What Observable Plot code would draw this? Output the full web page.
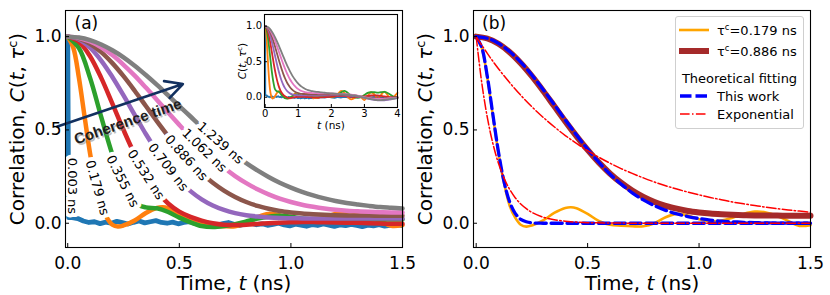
<!DOCTYPE html>
<html>
<head>
<meta charset="utf-8">
<script src="https://cdn.jsdelivr.net/npm/d3@7"></script>
<script src="https://cdn.jsdelivr.net/npm/@observablehq/plot@0.6"></script>
<style>
  html, body { margin: 0; padding: 0; background: #fff; }
  #wrap { position: relative; width: 830px; height: 295px; overflow: hidden; font-family: "DejaVu Sans", sans-serif; color: #000; }
  .panel { position: absolute; top: 0; }
  .panel svg { display: block; max-width: none !important; }
  #legend { position: absolute; left: 675px; top: 16px; width: 127px; height: 111px; border: 1px solid #cfcfcf; border-radius: 3px; background: rgba(255,255,255,0.85); font-size: 13px; }
  #legend .t { position: absolute; line-height: 1; white-space: nowrap; transform: translateY(-50%); }
  #legend .sup { font-size: 0.65em; position: relative; top: -0.55em; }
</style>
</head>
<body>
<div id="wrap">
  <div id="pa" class="panel" style="left:0;width:415px;height:295px"></div>
  <div id="inset" class="panel" style="left:226px;width:176px;height:134px"></div>
  <div id="pb" class="panel" style="left:415px;width:415px;height:295px"></div>
  <div id="legend">
    <svg width="127" height="111" style="position:absolute;left:0;top:0">
      <line x1="3" x2="33" y1="13" y2="13" stroke="#ffa500" stroke-width="2.6"/>
      <line x1="3" x2="33" y1="34" y2="34" stroke="#a52a2a" stroke-width="6"/>
      <line x1="4" x2="31" y1="79" y2="79" stroke="#0000ff" stroke-width="3.3" stroke-dasharray="11.5,4"/>
      <line x1="4" x2="31" y1="97" y2="97" stroke="#ff0000" stroke-width="1.5" stroke-dasharray="9.6,2.4,1.5,2.4"/>
    </svg>
    <div class="t" style="left:41px;top:13px">τ<span class="sup">c</span>=0.179 ns</div>
    <div class="t" style="left:41px;top:34px">τ<span class="sup">c</span>=0.886 ns</div>
    <div class="t" style="left:0;width:127px;text-align:center;top:61px">Theoretical fitting</div>
    <div class="t" style="left:41px;top:79px">This work</div>
    <div class="t" style="left:41px;top:97px">Exponential</div>
  </div>
</div>
<script>
// ---------------- DATA ----------------
const names = ["0.003 ns","0.179 ns","0.355 ns","0.532 ns","0.709 ns","0.886 ns","1.062 ns","1.239 ns"];

// common time grid (ns)
const tGrid = [0,0.05,0.1,0.15,0.2,0.25,0.3,0.35,0.4,0.45,0.5,0.55,0.6,0.65,0.7,0.75,0.8,0.85,0.9,0.95,1.0,1.05,1.1,1.15,1.2,1.25,1.3,1.35,1.4,1.45,1.5];
// finer grid for the fast (0.179 ns) curve
const tOrange = [0,0.025,0.05,0.075,0.1,0.125,0.15,0.175,0.2,0.225,0.25,0.3,0.35,0.4,0.425,0.45,0.5,0.55,0.6,0.65,0.7,0.75,0.8,0.85,0.9,0.95,1.0,1.05,1.1,1.15,1.2,1.25,1.3,1.35,1.4,1.45,1.5];
// grid for the 0.003 ns (noise) curve
const tBlue = [0,0.004,0.02,0.045,0.07,0.095,0.12,0.145,0.17,0.195,0.22,0.245,0.27,0.295,0.32,0.345,0.37,0.395,0.42,0.445,0.47,0.495,0.52,0.545,0.57,0.595,0.62,0.645,0.67,0.695,0.72,0.745,0.77,0.795,0.82,0.845,0.87,0.895,0.92,0.945,0.97,0.995,1.02,1.045,1.07,1.095,1.12,1.145,1.17,1.195,1.22,1.245,1.27,1.295,1.32,1.345,1.37,1.395,1.42,1.445,1.47,1.495];

const cBlue = [1.0,0.03,
  0.03,0.025,0.012,0.004,0.008,-0.002,0.006,0.0,0.01,0.003,
  -0.004,0.005,0.012,0.002,0.008,0.014,0.004,0.0,0.006,-0.003,
  0.004,0.009,-0.002,-0.006,0.003,-0.004,-0.01,-0.002,0.004,-0.006,
  -0.012,-0.004,0.002,-0.008,-0.003,-0.011,-0.006,0.0,-0.009,-0.014,
  -0.005,-0.01,-0.016,-0.008,-0.012,-0.004,-0.01,-0.017,-0.009,-0.013,
  -0.006,-0.012,-0.018,-0.01,-0.014,-0.008,-0.015,-0.011,-0.006,-0.012];
const cOrange = [1.0,0.94,0.78,0.576,0.375,0.216,0.095,0.03,-0.008,-0.018,-0.012,0.015,0.055,0.082,0.086,0.08,0.05,0.012,-0.008,-0.013,-0.016,-0.016,0.0,0.032,0.05,0.042,0.022,0.01,0.014,0.03,0.05,0.062,0.058,0.04,0.012,-0.014,-0.01];
const cGreen = [1.0,0.939,0.779,0.57,0.368,0.21,0.11,0.085,0.08,0.06,0.03,0.005,-0.015,-0.02,-0.015,-0.005,0.01,0.025,0.035,0.04,0.035,0.025,0.02,0.015,0.015,0.015,0.02,0.02,0.02,0.02,0.02];
const cRed = [1.0,0.973,0.895,0.779,0.641,0.5,0.369,0.258,0.17,0.106,0.062,0.034,0.014,0.0,-0.008,-0.01,-0.008,-0.004,0.0,0.003,0.005,0.006,0.006,0.005,0.004,0.003,0.002,0.0,-0.002,-0.003,-0.003];
const cPurple = [1.0,0.985,0.941,0.872,0.784,0.685,0.581,0.478,0.384,0.3,0.229,0.172,0.128,0.095,0.071,0.054,0.043,0.036,0.031,0.028,0.027,0.026,0.026,0.025,0.025,0.025,0.025,0.025,0.025,0.025,0.025];
const cBrown = [1.0,0.99,0.962,0.917,0.858,0.788,0.71,0.628,0.546,0.467,0.393,0.326,0.267,0.217,0.175,0.141,0.114,0.093,0.078,0.066,0.058,0.052,0.048,0.045,0.043,0.042,0.041,0.041,0.04,0.04,0.04];
const cPink = [1.0,0.993,0.974,0.943,0.901,0.849,0.791,0.727,0.661,0.593,0.527,0.463,0.403,0.347,0.297,0.253,0.215,0.182,0.155,0.132,0.114,0.099,0.088,0.079,0.072,0.067,0.064,0.061,0.059,0.058,0.057];
const cGray = [1.0,0.995,0.981,0.958,0.927,0.889,0.844,0.794,0.741,0.685,0.628,0.572,0.516,0.463,0.412,0.365,0.322,0.283,0.248,0.217,0.191,0.168,0.149,0.133,0.119,0.108,0.1,0.093,0.087,0.083,0.079];

// inset tails, 1.6 .. 4.0 ns
const tTail = [1.6,1.7,1.8,1.9,2.0,2.1,2.2,2.3,2.4,2.5,2.6,2.7,2.8,2.9,3.0,3.1,3.2,3.3,3.4,3.5,3.6,3.7,3.8,3.9,4.0];
const tailBlue = [-0.01,0.0,-0.006,0.004,-0.002,-0.008,0.003,-0.004,0.006,-0.002,0.004,-0.006,0.002,0.008,-0.003,0.005,-0.004,0.003,0.0,-0.005,0.004,0.0,-0.006,0.002,-0.003];
const tailOrange = [-0.01,0.01,0.03,0.02,0.0,0.01,0.05,0.09,0.06,0.0,-0.03,-0.01,0.02,0.0,-0.04,0.02,0.07,0.04,-0.02,0.03,0.08,0.03,-0.03,0.01,0.06];
const tailGreen = [0.02,0.018,0.015,0.012,0.01,0.012,0.03,0.07,0.09,0.06,0.02,0.0,-0.01,0.0,0.03,0.06,0.07,0.07,0.065,0.07,0.075,0.06,0.03,0.0,-0.01];
const tailRed = [-0.004,-0.002,0.0,0.004,0.008,0.012,0.015,0.016,0.015,0.012,0.008,0.004,0.002,0.004,0.01,0.018,0.024,0.026,0.024,0.018,0.01,0.004,0.0,-0.002,0.0];
const tailPurple = [0.025,0.025,0.026,0.027,0.028,0.028,0.027,0.026,0.025,0.023,0.02,0.015,0.008,0.0,-0.01,-0.02,-0.03,-0.038,-0.044,-0.046,-0.044,-0.038,-0.03,-0.02,-0.01];
const tailBrown = [0.04,0.04,0.039,0.038,0.037,0.036,0.035,0.034,0.033,0.031,0.028,0.024,0.018,0.01,0.002,-0.006,-0.012,-0.016,-0.018,-0.018,-0.016,-0.012,-0.008,-0.004,0.0];
const tailPink = [0.056,0.055,0.054,0.053,0.052,0.05,0.048,0.046,0.044,0.04,0.036,0.03,0.022,0.012,0.002,-0.008,-0.016,-0.022,-0.025,-0.025,-0.022,-0.018,-0.014,-0.01,-0.006];
const tailGray = [0.074,0.068,0.063,0.058,0.054,0.05,0.046,0.042,0.038,0.034,0.03,0.024,0.016,0.006,-0.006,-0.018,-0.028,-0.036,-0.04,-0.04,-0.036,-0.03,-0.024,-0.018,-0.014];

// panel (b) fits
const fitOrange = [1.0,0.942,0.786,0.582,0.382,0.223,0.115,0.053,0.021,0.008,0.002,0,0,0,0,0,0,0,0,0,0,0,0,0,0,0,0,0,0,0,0,0,0,0,0,0,0];
const expOrange = [1.0,0.753,0.567,0.427,0.321,0.242,0.182,0.137,0.103,0.078,0.058,0.033,0.019,0.011,0.008,0.006,0.003,0.002,0.001,0.001,0,0,0,0,0,0,0,0,0,0,0,0,0,0,0,0,0];
const fitBrown = [1.0,0.991,0.964,0.92,0.863,0.794,0.717,0.636,0.553,0.473,0.397,0.327,0.264,0.21,0.163,0.125,0.094,0.069,0.05,0.036,0.025,0.017,0.011,0.008,0.005,0.003,0.002,0.001,0.001,0.0,0.0];
const expBrown = [1.0,0.91,0.828,0.754,0.686,0.624,0.568,0.517,0.47,0.428,0.389,0.354,0.322,0.293,0.267,0.243,0.221,0.201,0.183,0.167,0.152,0.138,0.126,0.114,0.104,0.095,0.086,0.078,0.071,0.065,0.059];

// tick values
const xTicksMain = [0, 0.5, 1.0, 1.5];
const yTicksMain = [0, 0.5, 1.0];
const xTicksInset = [0, 1, 2, 3, 4];
const yTicksInset = [0, 0.5, 1.0];

// annotations (data coordinates)
const labelT = [0.021, 0.132, 0.245, 0.35, 0.45, 0.531, 0.612, 0.684];
const labelC = [0.20, 0.19, 0.225, 0.26, 0.30, 0.35, 0.39, 0.43];
const labelAngle = [90, 74, 63, 57, 52, 48, 44, 41];
const arrowFrom = [-0.046, 0.518];
const arrowTo = [0.516, 0.746];
const cohereAt = [0.27, 0.545];

// ---------------- STYLE ----------------
const palette = ["#1f77b4","#ff7f0e","#2ca02c","#d62728","#9467bd","#8c564b","#e377c2","#7f7f7f"];
const FONT = "DejaVu Sans";
const fmt1 = d3.format(".1f");

// ---------------- BUILD ----------------
const toRows = (name, ts, cs) => ts.map((t, i) => ({name, t, c: cs[i]}));
const mainSeries = [
  [names[0], tBlue, cBlue, tailBlue],
  [names[1], tOrange, cOrange, tailOrange],
  [names[2], tGrid, cGreen, tailGreen],
  [names[3], tGrid, cRed, tailRed],
  [names[4], tGrid, cPurple, tailPurple],
  [names[5], tGrid, cBrown, tailBrown],
  [names[6], tGrid, cPink, tailPink],
  [names[7], tGrid, cGray, tailGray]
];
const rowsBlue = toRows(names[0], tBlue, cBlue);
const rowsRest = mainSeries.slice(1).flatMap(s => toRows(s[0], s[1], s[2]));
const insetBlue = toRows(names[0], tBlue.concat(tTail), cBlue.concat(tailBlue));
const insetRest = mainSeries.slice(1).flatMap(s => toRows(s[0], s[1].concat(tTail), s[2].concat(s[3])));
const labelRows = names.map((name, i) => ({name, t: labelT[i], c: labelC[i], angle: labelAngle[i]}));

function panelAxes(o) {
  return [
    Plot.axisX(o.xTicks, {tickSize: 0, tickPadding: o.padX, tickFormat: o.xFmt, label: null, fontSize: o.fs}),
    Plot.axisY(o.yTicks, {tickSize: 0, tickPadding: o.padY, tickFormat: o.yFmt, label: null, fontSize: o.fs}),
    Plot.ruleX(o.xTicks, {x: d => d, insetTop: o.fh - o.tick, stroke: "black", strokeWidth: 1}),
    Plot.ruleY(o.yTicks, {y: d => d, insetRight: o.fw - o.tick, stroke: "black", strokeWidth: 1}),
    Plot.frame({stroke: "black", strokeWidth: 1.1})
  ];
}

function richify(svg) {
  svg.querySelectorAll("text").forEach(el => {
    const s = el.textContent;
    if (!s.includes("<")) return;
    while (el.firstChild) el.removeChild(el.firstChild);
    const re = /<(i|sup)>(.*?)<\/\1>|([^<]+)/g;
    let m, pending = null;
    while ((m = re.exec(s))) {
      const ts = document.createElementNS("http://www.w3.org/2000/svg", "tspan");
      if (m[1] === "i") { ts.setAttribute("font-style", "italic"); ts.textContent = m[2]; }
      else if (m[1] === "sup") { ts.setAttribute("font-size", "0.65em"); ts.setAttribute("dy", "-0.55em"); ts.textContent = m[2]; }
      else ts.textContent = m[3];
      if (m[1] !== "sup" && pending) { ts.setAttribute("dy", pending); pending = null; }
      if (m[1] === "sup") pending = "0.3575em";
      el.appendChild(ts);
    }
  });
  return svg;
}

const yLabel = "Correlation, <i>C</i>(<i>t</i>, <i>τ</i><sup>c</sup>)";
const xLabel = "Time, <i>t</i> (ns)";
const commonStyle = {fontFamily: FONT, fontSize: "17px", background: "transparent", color: "black", overflow: "visible"};

// Panel (a)
const pa = Plot.plot({
  width: 415, height: 295,
  marginLeft: 65, marginRight: 13, marginTop: 10, marginBottom: 48,
  x: {domain: [-0.01, 1.5], axis: null, label: null},
  y: {domain: [-0.13, 1.14], axis: null, label: null},
  color: {domain: names, range: palette},
  style: commonStyle,
  marks: [
    Plot.line(rowsBlue, {x: "t", y: "c", stroke: palette[0], strokeWidth: 4.8, strokeLinejoin: "round"}),
    Plot.line(rowsRest, {x: "t", y: "c", z: "name", stroke: "name", strokeWidth: 4.5, curve: "catmull-rom"}),
    Plot.text(labelRows, {x: "t", y: "c", text: "name", rotate: "angle", fontSize: 13, fill: "black", stroke: "white", strokeWidth: 8, textAnchor: "middle", lineAnchor: "middle"}),
    Plot.text(["Coherence time"], {x: cohereAt[0], y: cohereAt[1], text: d => d, rotate: -19, fontFamily: "Liberation Sans", fontWeight: "bold", fontSize: 15, fill: "#888", fillOpacity: 0.55, dx: 1.5, dy: 1.8}),
    Plot.text(["Coherence time"], {x: cohereAt[0], y: cohereAt[1], text: d => d, rotate: -19, fontFamily: "Liberation Sans", fontWeight: "bold", fontSize: 15, fill: "#1e1e1e"}),
    Plot.arrow([{x1: arrowFrom[0], y1: arrowFrom[1], x2: arrowTo[0], y2: arrowTo[1]}], {x1: "x1", y1: "y1", x2: "x2", y2: "y2", stroke: "#12305f", strokeWidth: 2.6, headLength: 11, headAngle: 55}),
    ...panelAxes({xTicks: xTicksMain, yTicks: yTicksMain, xFmt: fmt1, yFmt: fmt1, padX: 9, padY: 4, fs: 17, fw: 337, fh: 237, tick: 4}),
    Plot.text(["(a)"], {frameAnchor: "top-left", text: d => d, dx: 9, dy: 13, textAnchor: "start", lineAnchor: "middle", fontSize: 17}),
    Plot.text([xLabel], {frameAnchor: "bottom", text: d => d, dy: 36, fontSize: 20, textAnchor: "middle", lineAnchor: "middle"}),
    Plot.text([yLabel], {frameAnchor: "left", text: d => d, dx: -48, rotate: -90, fontSize: 20, textAnchor: "middle", lineAnchor: "middle"})
  ]
});
document.getElementById("pa").appendChild(richify(pa));

// Inset
const inset = Plot.plot({
  width: 176, height: 134,
  marginLeft: 38, marginRight: 5, marginTop: 14, marginBottom: 27,
  x: {domain: [-0.02, 4], axis: null, label: null},
  y: {domain: [-0.145, 1.165], axis: null, label: null},
  color: {domain: names, range: palette},
  style: {...commonStyle, fontSize: "10px"},
  marks: [
    Plot.frame({fill: "white", stroke: "none"}),
    Plot.line(insetBlue, {x: "t", y: "c", stroke: palette[0], strokeWidth: 1.8}),
    Plot.line(insetRest, {x: "t", y: "c", z: "name", stroke: "name", strokeWidth: 1.8, curve: "catmull-rom"}),
    ...panelAxes({xTicks: xTicksInset, yTicks: yTicksInset, xFmt: d3.format("d"), yFmt: fmt1, padX: 2, padY: 2.5, fs: 10, fw: 133, fh: 93, tick: 3}),
    Plot.text(["<i>C</i>(<i>t</i>, <i>τ</i><sup>c</sup>)"], {frameAnchor: "left", text: d => d, dx: -22, rotate: -90, fontSize: 10.5, textAnchor: "middle", lineAnchor: "middle"}),
    Plot.text(["<i>t</i> (ns)"], {frameAnchor: "bottom", text: d => d, dy: 18, fontSize: 10.5, textAnchor: "middle", lineAnchor: "middle"})
  ]
});
document.getElementById("inset").appendChild(richify(inset));

// Panel (b)
const pb = Plot.plot({
  width: 415, height: 295,
  marginLeft: 58, marginRight: 20, marginTop: 10, marginBottom: 48,
  x: {domain: [-0.012, 1.5], axis: null, label: null},
  y: {domain: [-0.13, 1.14], axis: null, label: null},
  style: commonStyle,
  marks: [
    Plot.line(toRows("0.179", tOrange, cOrange), {x: "t", y: "c", stroke: "#ffa500", strokeWidth: 2.6, curve: "catmull-rom"}),
    Plot.line(toRows("0.886", tGrid, cBrown), {x: "t", y: "c", stroke: "#a52a2a", strokeWidth: 6, curve: "catmull-rom"}),
    Plot.line(toRows("fitO", tOrange, fitOrange).concat(toRows("fitB", tGrid, fitBrown)), {x: "t", y: "c", z: "name", stroke: "#0000ff", strokeWidth: 3.3, strokeDasharray: "11,4.8", curve: "catmull-rom"}),
    Plot.line(toRows("expO", tOrange, expOrange).concat(toRows("expB", tGrid, expBrown)), {x: "t", y: "c", z: "name", stroke: "#ff0000", strokeWidth: 1.5, strokeDasharray: "9.6,2.4,1.5,2.4", curve: "catmull-rom"}),
    ...panelAxes({xTicks: xTicksMain, yTicks: yTicksMain, xFmt: fmt1, yFmt: fmt1, padX: 9, padY: 4, fs: 17, fw: 337, fh: 237, tick: 4}),
    Plot.text(["(b)"], {frameAnchor: "top-left", text: d => d, dx: 8.5, dy: 13, textAnchor: "start", lineAnchor: "middle", fontSize: 17}),
    Plot.text([xLabel], {frameAnchor: "bottom", text: d => d, dy: 36, fontSize: 20, textAnchor: "middle", lineAnchor: "middle"}),
    Plot.text([yLabel], {frameAnchor: "left", text: d => d, dx: -48, rotate: -90, fontSize: 20, textAnchor: "middle", lineAnchor: "middle"})
  ]
});
document.getElementById("pb").appendChild(richify(pb));
</script>
</body>
</html>
